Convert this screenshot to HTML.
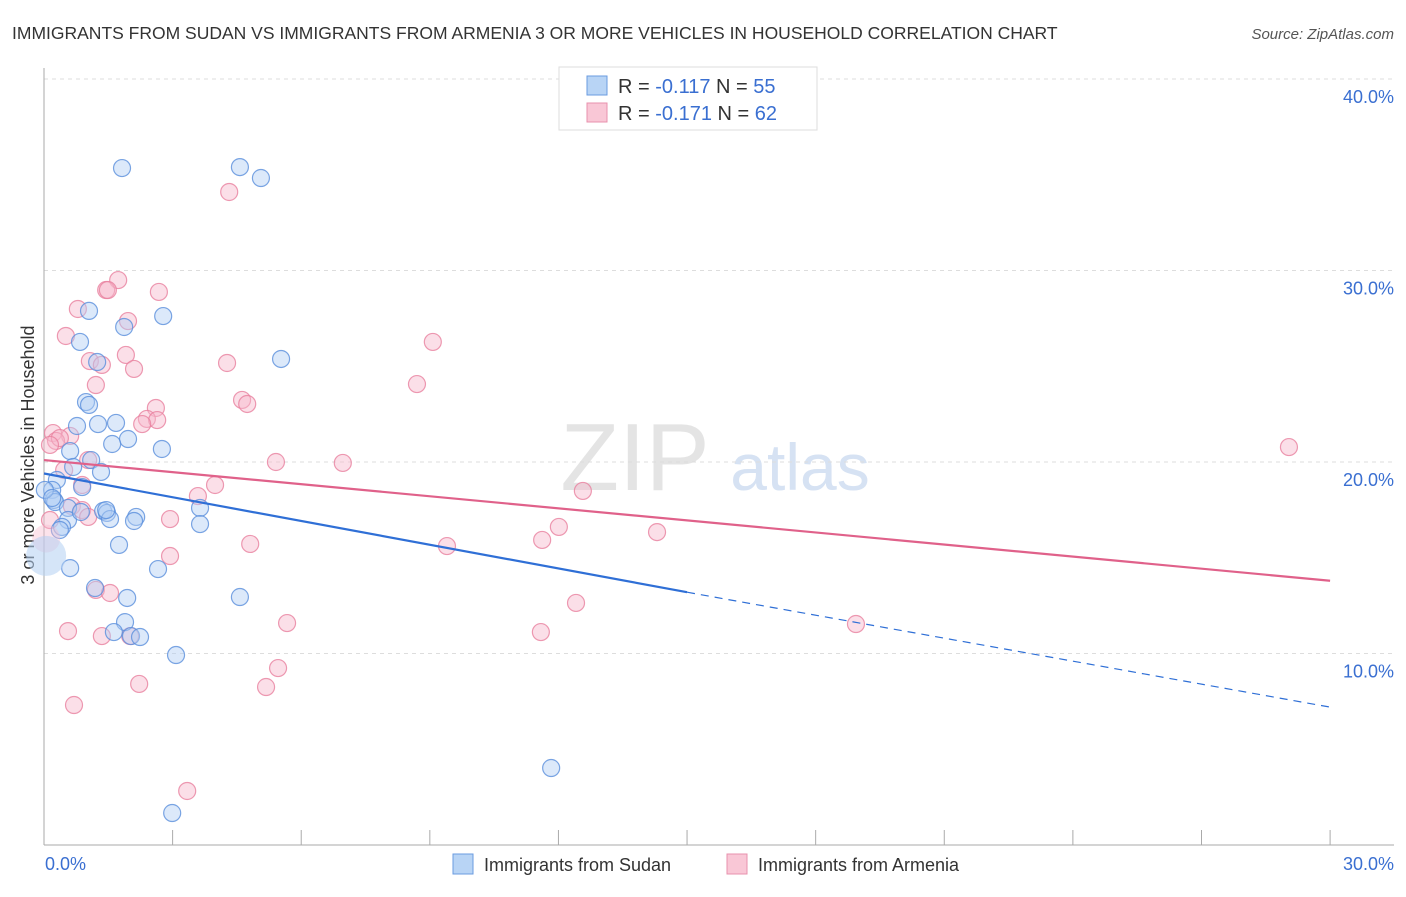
<!DOCTYPE html>
<html><head><meta charset="utf-8"><style>
body{margin:0;background:#fff;font-family:"Liberation Sans",sans-serif;}
svg text{font-family:"Liberation Sans",sans-serif;}
</style></head><body>
<svg id="c" width="1406" height="892" xmlns="http://www.w3.org/2000/svg">
<text x="12" y="39" font-size="17.5" fill="#333">IMMIGRANTS FROM SUDAN VS IMMIGRANTS FROM ARMENIA 3 OR MORE VEHICLES IN HOUSEHOLD CORRELATION CHART</text>
<text x="1394" y="39" font-size="15" fill="#555" text-anchor="end" font-style="italic">Source: ZipAtlas.com</text>
<text x="635" y="490" font-size="96" fill="#e4e4e4" font-family="Liberation Serif" text-anchor="middle">ZIP</text>
<text x="800" y="490" font-size="66" fill="#d6e2f3" text-anchor="middle">atlas</text>
<text transform="translate(34,455) rotate(-90)" font-size="18" fill="#333" text-anchor="middle">3 or more Vehicles in Household</text>
<g id="grid"></g><g id="pts"></g><g id="lines"></g>
<g>
<rect x="559" y="67" width="258" height="63" fill="#fff" stroke="#ddd"/>
<rect x="587" y="76" width="20" height="19" fill="#b8d4f5" stroke="#6a9be0"/>
<text x="618" y="93" font-size="20" fill="#333">R = <tspan fill="#3a6fd1">-0.117</tspan>   N = <tspan fill="#3a6fd1">55</tspan></text>
<rect x="587" y="103" width="20" height="19" fill="#f9c7d6" stroke="#e891ad"/>
<text x="618" y="120" font-size="20" fill="#333">R = <tspan fill="#3a6fd1">-0.171</tspan>   N = <tspan fill="#3a6fd1">62</tspan></text>
</g>
<g>
<rect x="453" y="854" width="20" height="20" fill="#b8d4f5" stroke="#6a9be0"/>
<text x="484" y="871" font-size="18" fill="#333">Immigrants from Sudan</text>
<rect x="727" y="854" width="20" height="20" fill="#f9c7d6" stroke="#e891ad"/>
<text x="758" y="871" font-size="18" fill="#333">Immigrants from Armenia</text>
</g>
<text x="45" y="870" font-size="18" fill="#3a6fd1">0.0%</text>
<text x="1394" y="870" font-size="18" fill="#3a6fd1" text-anchor="end">30.0%</text>
</svg>
<script>
const yTicks=[10,20,30,40];
const sudanX=[], sudanY=[], armX=[], armY=[];
const sudanPx=[[122,168],[240,167],[261,178],[89,311],[163,316],[124,327],[80,342],[281,359],[97,362],[86,402],[89,405],[98,424],[116,423],[128,439],[77,426],[112,444],[162,449],[70,451],[91,460],[101,472],[73,467],[82,487],[57,480],[52,490],[54,500],[55,502],[68,508],[103,511],[107,513],[136,517],[200,508],[68,520],[81,512],[110,519],[134,521],[200,524],[62,527],[60,530],[119,545],[70,568],[158,569],[95,588],[127,598],[240,597],[125,622],[114,632],[131,636],[140,637],[176,655],[551,768],[172,813],[45,490],[52,498],[106,510]];
const armPx=[[229,192],[118,280],[106,290],[108,290],[159,292],[78,309],[128,321],[66,336],[126,355],[90,361],[102,365],[134,369],[227,363],[433,342],[417,384],[96,385],[242,400],[247,404],[156,408],[147,419],[157,420],[142,424],[53,433],[70,436],[56,441],[60,438],[50,445],[88,460],[276,462],[343,463],[583,491],[1289,447],[64,470],[82,485],[215,485],[198,496],[72,506],[82,510],[88,517],[170,519],[559,527],[657,532],[542,540],[250,544],[447,546],[170,556],[96,590],[110,593],[287,623],[68,631],[102,636],[130,636],[576,603],[541,632],[856,624],[278,668],[139,684],[266,687],[74,705],[187,791],[50,520]];
// values in percent
sudanPx.forEach(p=>{sudanX.push(+((p[0]-44)/42.87).toFixed(2));sudanY.push(+((845-p[1])/19.15).toFixed(2));});
armPx.forEach(p=>{armX.push(+((p[0]-44)/42.87).toFixed(2));armY.push(+((845-p[1])/19.15).toFixed(2));});
const sudanBig=[0.05,15.1], armBig=[0.05,16.0];
const sudanTrend=[[0,19.4],[15,13.2],[30,7.2]];
const armTrend=[[0,20.1],[30,13.8]];
const X=v=>44+v*42.87, Y=v=>845-v*19.15;
const NS="http://www.w3.org/2000/svg";
function mk(t,a,p){const e=document.createElementNS(NS,t);for(const k in a)e.setAttribute(k,a[k]);p.appendChild(e);return e;}
const g=document.getElementById('grid');
yTicks.forEach(t=>{
 const l=mk('line',{x1:44,x2:1394,y1:Y(t),y2:Y(t),stroke:'#ddd','stroke-dasharray':'4,4'},g);
 
 
 const tx=mk('text',{x:1394,y:Y(t)+24,'font-size':18,fill:'#3a6fd1','text-anchor':'end'},g);
 tx.textContent=t.toFixed(1)+'%';
 
 
});
mk('line',{x1:44,x2:44,y1:68,y2:845,stroke:'#aaa'},g);
mk('line',{x1:44,x2:1394,y1:845,y2:845,stroke:'#aaa'},g);
for(let i=0;i<=10;i++){const t=mk('line',{x1:X(i*3),x2:X(i*3),y1:830,y2:845,stroke:'#aaa'},g);
 
 }
const pg=document.getElementById('pts');
function dots(xs,ys,f,s,name){xs.forEach((x,i)=>{const c=mk('circle',{cx:X(x),cy:Y(ys[i]),r:8.5,fill:f,'fill-opacity':0.45,stroke:s,'stroke-opacity':0.8,'stroke-width':1.2},pg);
 
 });}
dots(armX,armY,'#f7b8cc','#e8819f','armenia-point');
dots(sudanX,sudanY,'#b2cff3','#5a8fdc','sudan-point');
let b1=mk('circle',{cx:X(armBig[0]),cy:Y(armBig[1]),r:14,fill:'#f7b8cc','fill-opacity':0.4},pg);


let b2=mk('circle',{cx:X(sudanBig[0]),cy:Y(sudanBig[1]),r:20,fill:'#b2cff3','fill-opacity':0.55},pg);


const lg=document.getElementById('lines');
let l1=mk('line',{x1:X(armTrend[0][0]),y1:Y(armTrend[0][1]),x2:X(armTrend[1][0]),y2:Y(armTrend[1][1]),stroke:'#e0618a','stroke-width':2.2},lg);


let l2=mk('line',{x1:X(sudanTrend[0][0]),y1:Y(sudanTrend[0][1]),x2:X(sudanTrend[1][0]),y2:Y(sudanTrend[1][1]),stroke:'#2f6fd6','stroke-width':2.2},lg);


let l3=mk('line',{x1:X(sudanTrend[1][0]),y1:Y(sudanTrend[1][1]),x2:X(sudanTrend[2][0]),y2:Y(sudanTrend[2][1]),stroke:'#2f6fd6','stroke-width':1.2,'stroke-dasharray':'8,6'},lg);


</script>
</body></html>
